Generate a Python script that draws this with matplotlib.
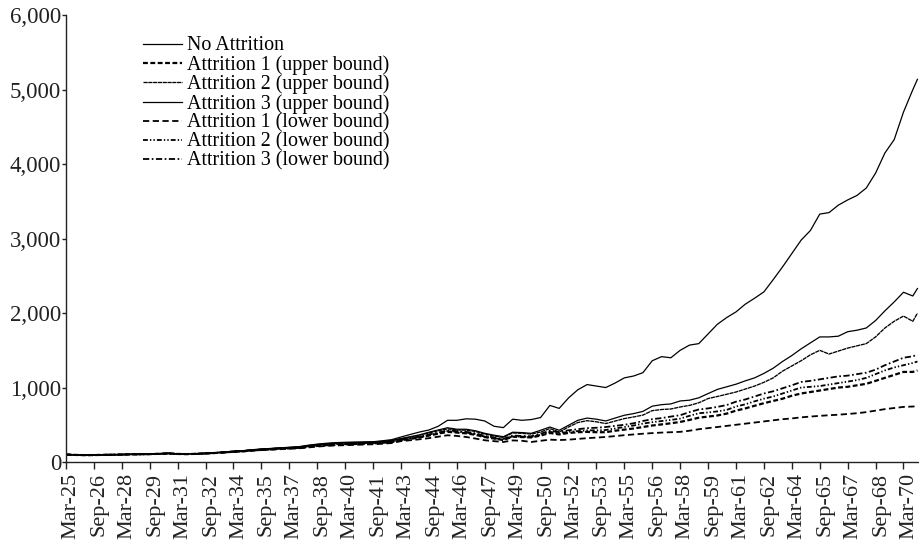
import numpy as np
import matplotlib
matplotlib.use("Agg")
import matplotlib.pyplot as plt
from matplotlib.ticker import FuncFormatter
import matplotlib.transforms as mtransforms

plt.rcParams['font.family'] = ['Liberation Serif', 'DejaVu Serif']
plt.rcParams['lines.scale_dashes'] = False

# months since March 1925 (half-yearly readings)
months = list(range(0, 547, 6)) + [549]

tick_months = list(range(0, 541, 18))
tick_labels = ["Mar-25", "Sep-26", "Mar-28", "Sep-29", "Mar-31", "Sep-32", "Mar-34",
               "Sep-35", "Mar-37", "Sep-38", "Mar-40", "Sep-41", "Mar-43", "Sep-44",
               "Mar-46", "Sep-47", "Mar-49", "Sep-50", "Mar-52", "Sep-53", "Mar-55",
               "Sep-56", "Mar-58", "Sep-59", "Mar-61", "Sep-62", "Mar-64", "Sep-65",
               "Mar-67", "Sep-68", "Mar-70"]

no_attrition = [
    100, 95, 92, 93, 96, 98,
    100, 103, 104, 106, 112, 118,
    110, 108, 112, 118, 125, 135,
    145, 152, 165, 175, 182, 190,
    198, 205, 225, 240, 252, 260,
    265, 268, 270, 272, 285, 300,
    336, 370, 403, 430, 480, 560,
    560, 580, 575, 551, 480, 462,
    575, 560, 570, 597, 760, 720,
    860, 970, 1040, 1020, 1000, 1060,
    1130, 1155, 1200, 1360, 1415, 1400,
    1500, 1570, 1590, 1720, 1850, 1940,
    2016, 2120, 2200, 2285, 2450, 2620,
    2800, 2980, 3110, 3330, 3350, 3450,
    3520, 3580, 3680, 3880, 4150, 4330,
    4700, 5000, 5140]

attr1_upper = [
    100, 95, 92, 93, 96, 98,
    100, 103, 104, 106, 110, 115,
    108, 106, 110, 115, 121, 129,
    138, 144, 155, 163, 170, 177,
    184, 190, 203, 216, 226, 233,
    238, 242, 246, 250, 258, 268,
    292, 310, 330, 355, 380, 405,
    395, 385, 365, 335, 315, 295,
    340, 335, 330, 355, 390, 370,
    390, 400, 405, 400, 400, 420,
    435, 450, 470, 490, 505, 520,
    538, 565, 595, 610, 625, 650,
    690, 720, 755, 790, 820, 850,
    890, 920, 940, 960, 980, 1000,
    1010, 1030, 1050, 1090, 1130, 1170,
    1210, 1210, 1230]

attr2_upper = [
    100, 95, 92, 93, 96, 98,
    100, 103, 104, 106, 111, 116,
    109, 107, 111, 116, 123, 132,
    142, 149, 161, 170, 178, 186,
    193, 200, 217, 232, 243, 251,
    255, 258, 261, 265, 275, 287,
    310, 335, 358, 390, 420, 445,
    430, 428, 410, 375, 350, 330,
    390, 385, 375, 403, 449, 403,
    470, 530, 555, 540, 516, 550,
    583, 605, 630, 690, 705, 712,
    739, 760, 795, 852, 880, 910,
    940, 980, 1020, 1070, 1130, 1220,
    1290, 1360, 1440, 1500, 1450, 1490,
    1530, 1560, 1590, 1680, 1800, 1890,
    1960, 1890, 2000]

attr3_upper = [
    100, 95, 92, 93, 96, 98,
    100, 103, 104, 106, 111, 116,
    109, 107, 111, 117, 124, 133,
    143, 150, 162, 172, 180, 188,
    195, 202, 220, 235, 246, 254,
    258, 261, 264, 268, 278, 290,
    316, 340, 365, 400, 430, 460,
    440, 440, 420, 385, 360, 340,
    400, 395, 385, 426, 470, 426,
    493, 560, 590, 575, 551, 590,
    628, 650, 680, 750, 770, 780,
    820, 830, 862, 919, 975, 1010,
    1045, 1090, 1130, 1190, 1260, 1350,
    1430, 1520, 1600, 1680, 1680, 1690,
    1750, 1770, 1800, 1900, 2030, 2150,
    2280, 2230, 2330]

attr1_lower = [
    100, 95, 92, 93, 96, 98,
    100, 102, 103, 105, 109, 114,
    107, 105, 109, 113, 119, 127,
    136, 142, 152, 160, 166, 172,
    178, 183, 195, 207, 216, 222,
    226, 230, 234, 238, 245, 255,
    280, 292, 305, 320, 340, 359,
    350, 336, 315, 292, 280, 269,
    290, 285, 269, 285, 300, 295,
    300, 310, 320, 328, 336, 348,
    360, 370, 380, 388, 395, 400,
    405, 420, 440, 455, 470, 485,
    500, 515, 530, 545, 560, 575,
    585, 600, 610, 620, 628, 635,
    645, 655, 670, 690, 710, 725,
    740, 745, 750]

attr2_lower = [
    100, 95, 92, 93, 96, 98,
    100, 103, 104, 106, 110, 115,
    108, 106, 110, 115, 121, 129,
    139, 145, 156, 165, 172, 179,
    186, 192, 206, 220, 230, 238,
    242, 246, 250, 254, 262, 272,
    296, 315, 335, 360, 385, 415,
    405, 395, 375, 340, 320, 300,
    345, 340, 335, 365, 405, 385,
    405, 415, 425, 425, 430, 450,
    470, 490, 516, 535, 550, 565,
    583, 620, 655, 665, 680, 700,
    745, 775, 815, 850, 880, 920,
    960, 1000, 1010, 1020, 1040, 1060,
    1080, 1100, 1130, 1180, 1230, 1270,
    1300, 1330, 1350]

attr3_lower = [
    100, 95, 92, 93, 96, 98,
    100, 103, 104, 106, 110, 115,
    108, 106, 110, 115, 122, 130,
    140, 147, 158, 167, 175, 182,
    189, 195, 210, 224, 234, 242,
    246, 250, 254, 258, 266, 276,
    298, 320, 340, 370, 395, 425,
    415, 405, 385, 350, 330, 310,
    355, 350, 345, 380, 420, 400,
    426, 440, 455, 460, 470, 485,
    500, 520, 551, 575, 590, 610,
    628, 670, 705, 720, 740, 765,
    810, 840, 880, 920, 950, 990,
    1030, 1075, 1090, 1110, 1130, 1150,
    1160, 1180, 1200, 1240, 1300, 1350,
    1400, 1420, 1440]

series = [
    ("No Attrition", no_attrition, dict(ls='-', lw=0.9)),
    ("Attrition 1 (upper bound)", attr1_upper, dict(ls=(0, (3.5, 1.8)), lw=1.6)),
    ("Attrition 2 (upper bound)", attr2_upper, dict(ls=(0, (3.0, 0.45)), lw=0.95)),
    ("Attrition 3 (upper bound)", attr3_upper, dict(ls='-', lw=0.9)),
    ("Attrition 1 (lower bound)", attr1_lower, dict(ls=(0, (4.5, 2.5)), lw=1.3)),
    ("Attrition 2 (lower bound)", attr2_lower, dict(ls=(0, (3.5, 1.5, 1, 1.5, 1, 1.5)), lw=1.3)),
    ("Attrition 3 (lower bound)", attr3_lower, dict(ls=(0, (4.5, 1.8, 1.2, 1.8)), lw=1.3)),
]

fig = plt.figure(figsize=(9.2, 5.43), dpi=100)
ax = fig.add_axes([66 / 920, 1 - 462 / 543, (919 - 66) / 920, (462 - 15.3) / 543])

for name, vals, st in series:
    assert len(vals) == len(months), name
    ax.plot(months, vals, color='black', label=name, **st)

ax.set_xlim(0, 550)
ax.set_ylim(0, 6000)
ax.set_yticks(range(0, 6001, 1000))
ax.yaxis.set_major_formatter(FuncFormatter(lambda v, p: f"{v:,.0f}"))
ax.set_xticks(tick_months)
ax.set_xticklabels(tick_labels, rotation=90)

for s in ['top', 'right']:
    ax.spines[s].set_visible(False)
for s in ['left', 'bottom']:
    ax.spines[s].set_color('#222222')
    ax.spines[s].set_linewidth(1.0)

ax.tick_params(axis='y', direction='out', length=3, width=1, labelsize=16.5, pad=0.5, colors='#222222')
ax.tick_params(axis='x', direction='out', length=5, width=1, labelsize=16, pad=3, colors='#222222')
offset = mtransforms.ScaledTranslation(5 / 100, 0, fig.dpi_scale_trans)
for lab in ax.get_xticklabels():
    lab.set_transform(lab.get_transform() + offset)

ax.legend(loc='upper left', bbox_to_anchor=(143 / 920, 1 - 36.5 / 543),
          bbox_transform=fig.transFigure, frameon=False, fontsize=14.4,
          handlelength=1.95, handletextpad=0.23, labelspacing=-0.015,
          borderpad=0, borderaxespad=0)

fig.savefig("out.png", dpi=100)
